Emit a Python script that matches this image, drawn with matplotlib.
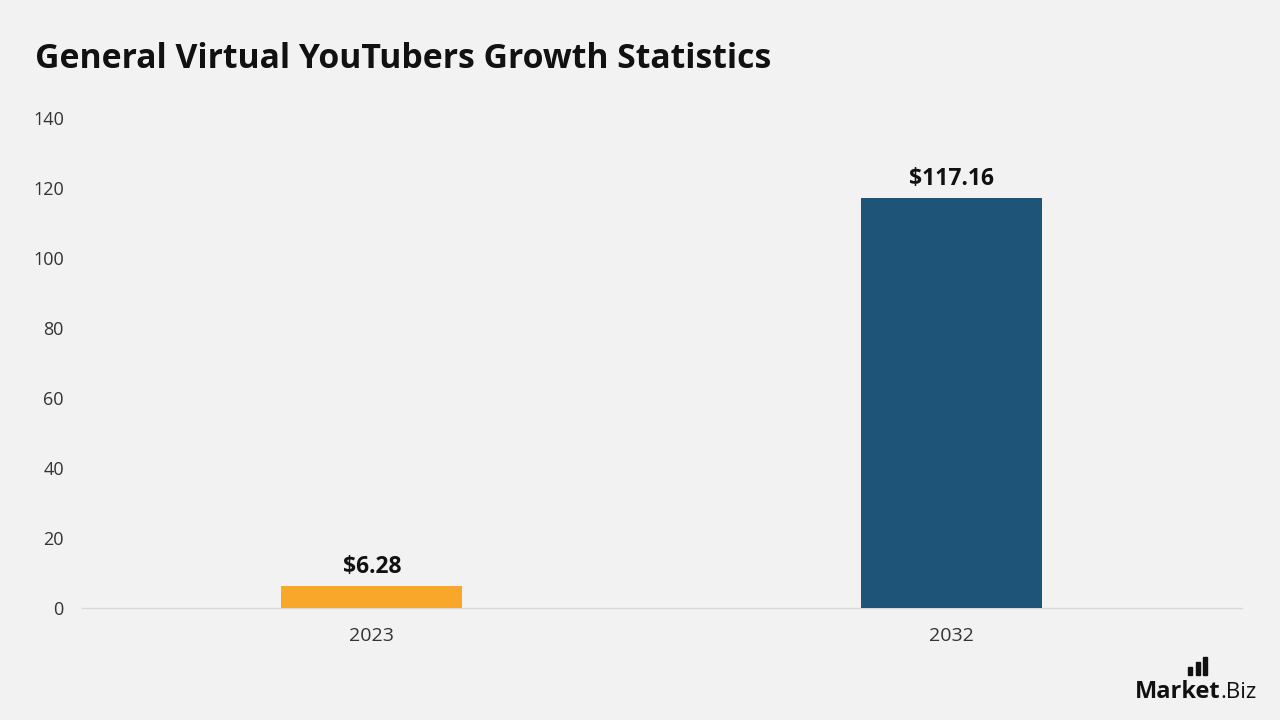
import matplotlib.pyplot as plt
from matplotlib.patches import Rectangle

years = ['2023', '2032']
values = [6.28, 117.16]
labels = ['$6.28', '$117.16']
colors = ['#F9A72B', '#1D5478']
yticks = [0, 20, 40, 60, 80, 100, 120, 140]

plt.rcParams['font.family'] = ['Open Sans', 'DejaVu Sans']

fig = plt.figure(figsize=(12.8, 7.2), dpi=100, facecolor='#F2F2F2')
ax = fig.add_axes([0.064, 0.1556, 0.906, 0.6806])
ax.set_facecolor('#F2F2F2')

x = range(len(years))
bars = ax.bar(x, values, width=0.312, color=colors, zorder=3)
for b, lab in zip(bars, labels):
    ax.annotate(lab, (b.get_x() + b.get_width() / 2, b.get_height()),
                xytext=(0, 5), textcoords='offset points', ha='center', va='bottom',
                fontsize=16.5, fontweight='bold', color='#111111')

ax.set_xlim(-0.5, 1.5)
ax.set_ylim(0, 140)
ax.set_xticks(list(x))
ax.set_xticklabels(years)
ax.set_yticks(yticks)
ax.tick_params(axis='both', length=0, labelsize=13, colors='#333333')
ax.tick_params(axis='x', labelsize=14, pad=14)
ax.tick_params(axis='y', pad=13)
for s in ['top', 'right', 'left']:
    ax.spines[s].set_visible(False)
ax.spines['bottom'].set_color('#D9D9D9')
ax.spines['bottom'].set_linewidth(1)

fig.text(0.027, 0.918, 'General Virtual YouTubers Growth Statistics',
         fontsize=24.3, fontweight='bold', color='#111111', va='center')

# logo
fig.text(0.9535, 0.031, 'Market', fontsize=17, fontweight='bold', color='#111111',
         va='baseline', ha='right')
fig.text(0.982, 0.031, '.Biz', fontsize=16, color='#111111', va='baseline', ha='right')
for i, h in enumerate([0.010, 0.017, 0.024]):
    fig.patches.append(Rectangle((0.9285 + i * 0.0058, 0.063), 0.003, h,
                                 transform=fig.transFigure, color='#111111'))

fig.savefig('out.png', dpi=100, facecolor=fig.get_facecolor())
